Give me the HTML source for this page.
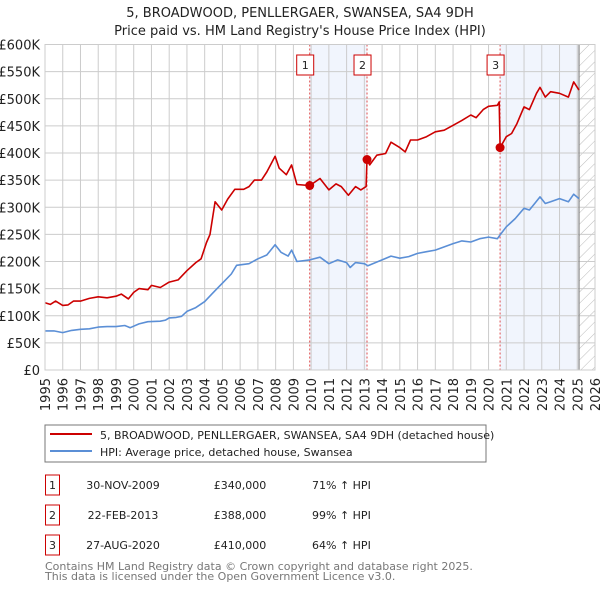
<!DOCTYPE html>
<html><head><meta charset="utf-8"><style>
body{margin:0;background:#fff;font-family:"DejaVu Sans","Liberation Sans",sans-serif;}
svg text{font-family:"DejaVu Sans","Liberation Sans",sans-serif;}
</style></head><body>
<svg id="c" width="600" height="590" xmlns="http://www.w3.org/2000/svg">
<defs><pattern id="hatch" width="8" height="8" patternUnits="userSpaceOnUse" patternTransform="rotate(45)"><line x1="0" y1="0" x2="0" y2="8" stroke="#bbb" stroke-width="1"/></pattern></defs>
<text x="300" y="17" text-anchor="middle" font-size="13" fill="#222">5, BROADWOOD, PENLLERGAER, SWANSEA, SA4 9DH</text>
<text x="300" y="35" text-anchor="middle" font-size="13" fill="#222">Price paid vs. HM Land Registry's House Price Index (HPI)</text>
<g id="plot"></g>
<rect x="45" y="425" width="441" height="37" fill="#fff" stroke="#777"/>
<line x1="50" y1="434" x2="92" y2="434" stroke="#cc0000" stroke-width="2"/>
<text x="100" y="439" font-size="11" fill="#222">5, BROADWOOD, PENLLERGAER, SWANSEA, SA4 9DH (detached house)</text>
<line x1="50" y1="451" x2="92" y2="451" stroke="#5b8fd6" stroke-width="2"/>
<text x="100" y="456" font-size="11" fill="#222">HPI: Average price, detached house, Swansea</text>
<g id="table" font-size="11" fill="#222"></g>
<text x="45" y="570" font-size="11" fill="#777">Contains HM Land Registry data © Crown copyright and database right 2025.</text>
<text x="45" y="580" font-size="11" fill="#777">This data is licensed under the Open Government Licence v3.0.</text>
</svg>
<script>
const yTicks=[0,50,100,150,200,250,300,350,400,450,500,550,600];
const yTickLabels=["£0","£50K","£100K","£150K","£200K","£250K","£300K","£350K","£400K","£450K","£500K","£550K","£600K"];
const xYears=[1995,1996,1997,1998,1999,2000,2001,2002,2003,2004,2005,2006,2007,2008,2009,2010,2011,2012,2013,2014,2015,2016,2017,2018,2019,2020,2021,2022,2023,2024,2025,2026];
const hpiYears=[1995,1995.5,1996,1996.5,1997,1997.5,1998,1998.5,1999,1999.5,1999.8,2000.3,2000.8,2001.5,2001.8,2002,2002.4,2002.7,2003,2003.5,2004,2004.4,2004.7,2005,2005.5,2005.8,2006.5,2007,2007.5,2007.97,2008.3,2008.7,2008.9,2009.2,2009.92,2010.5,2011,2011.5,2012,2012.2,2012.5,2013,2013.2,2014,2014.5,2015,2015.5,2016,2016.5,2017,2017.5,2018,2018.5,2019,2019.5,2020,2020.5,2020.65,2021,2021.5,2022,2022.3,2022.6,2022.9,2023.2,2023.5,2024,2024.5,2024.8,2025.1];
const hpiValues=[72,72,69,73,75,76,79,80,80,82,78,85,89,90,92,96,97,99,108,115,126,140,150,160,177,193,196,205,212,231,217,210,221,200,203,208,196,203,198,189,198,196,192,203,210,206,209,215,218,221,227,233,238,236,242,245,242,249,264,279,298,295,307,319,307,310,316,310,324,316];
const priceYears=[1995,1995.3,1995.6,1996,1996.3,1996.6,1997,1997.5,1998,1998.5,1999,1999.3,1999.7,2000,2000.3,2000.8,2001,2001.5,2002,2002.5,2003,2003.5,2003.8,2004.1,2004.3,2004.59,2004.96,2005.3,2005.7,2006.2,2006.5,2006.8,2007.2,2007.5,2007.97,2008.2,2008.6,2008.9,2009.2,2009.92,2010.5,2011,2011.4,2011.7,2012.1,2012.5,2012.8,2013.1,2013.15,2013.3,2013.7,2014.2,2014.5,2015,2015.3,2015.6,2016,2016.5,2017,2017.5,2018,2018.5,2019,2019.3,2019.7,2020,2020.5,2020.6,2020.65,2021,2021.3,2021.6,2022,2022.3,2022.7,2022.9,2023.2,2023.5,2024,2024.5,2024.8,2025.1];
const priceValues=[124,121,127,119,120,127,127,132,135,133,136,140,131,143,150,148,156,152,162,166,183,198,205,235,250,310,295,315,333,333,338,350,350,365,394,372,360,378,342,340,353,332,343,338,322,338,332,338,388,378,396,399,420,410,402,424,424,430,439,442,451,460,470,465,480,486,488,494,410,430,436,454,485,480,510,521,503,513,510,503,531,516];
const saleYears=[2009.92,2013.15,2020.65];
const saleValues=[340,388,410];
const saleLabels=["1","2","3"];
const saleDates=["30-NOV-2009","22-FEB-2013","27-AUG-2020"];
const salePrices=["£340,000","£388,000","£410,000"];
const saleHpi=["71% ↑ HPI","99% ↑ HPI","64% ↑ HPI"];
const dataEnd=2025.1;

const NS="http://www.w3.org/2000/svg";
const X0=45,X1=595,Y0=370,Y1=44.5;
const xS=y=>X0+(y-1995)/(2026-1995)*(X1-X0);
const yS=v=>Y0-v/600*(Y0-Y1);
const plot=document.getElementById('plot');
function mk(tag,at,parent){const e=document.createElementNS(NS,tag);for(const k in at)e.setAttribute(k,at[k]);(parent||plot).appendChild(e);return e;}
[[saleYears[0],saleYears[1]],[saleYears[2],dataEnd]].forEach((r,i)=>{
 const e=mk('rect',{x:xS(r[0]),y:Y1,width:xS(r[1])-xS(r[0]),height:Y0-Y1,fill:'#eef3fc',opacity:0.8});
 
 
});
const h=mk('rect',{x:xS(dataEnd),y:Y1,width:X1-xS(dataEnd),height:Y0-Y1,fill:'url(#hatch)'});


yTicks.forEach((v,i)=>{
 const l=mk('line',{x1:X0,x2:X1,y1:yS(v),y2:yS(v),stroke:'#ccc','stroke-width':1});
 
 
 const t=mk('text',{x:40,y:yS(v)+5,'text-anchor':'end','font-size':13,fill:'#222'});
 t.textContent=yTickLabels[i];
 
 
});
xYears.forEach(yr=>{
 const l=mk('line',{x1:xS(yr),x2:xS(yr),y1:Y1,y2:Y0,stroke:'#ccc','stroke-width':1});
 
 
 const t=mk('text',{x:0,y:0,'text-anchor':'end','font-size':13,fill:'#222',transform:`translate(${xS(yr)+5},378) rotate(-90)`});
 t.textContent=yr;
 
 
});
const dl=mk('line',{x1:xS(dataEnd),x2:xS(dataEnd),y1:Y1,y2:Y0,stroke:'#888','stroke-width':1.2});


saleYears.forEach((yr,i)=>{
 const l=mk('line',{x1:xS(yr),x2:xS(yr),y1:Y1,y2:Y0,stroke:'#e05050','stroke-width':1,'stroke-dasharray':'2,2'});
 
 
 const b=mk('rect',{x:xS(yr)-13,y:55,width:17,height:20,fill:'#fff',stroke:'#cc0000','stroke-width':1});
 
 
 const t=mk('text',{x:xS(yr)-4.5,y:69,'text-anchor':'middle','font-size':11,fill:'#222'});
 t.textContent=saleLabels[i];
 
 
});
function line(xs,vs,col,name){
 const p=mk('polyline',{points:xs.map((x,i)=>xS(x).toFixed(1)+','+yS(vs[i]).toFixed(1)).join(' '),fill:'none',stroke:col,'stroke-width':1.6,'stroke-linejoin':'round'});
 
 
}
line(hpiYears,hpiValues,'#5b8fd6','hpi-line');
line(priceYears,priceValues,'#cc0000','price-paid-line');
saleYears.forEach((yr,i)=>{
 const c=mk('circle',{cx:xS(yr),cy:yS(saleValues[i]),r:4.5,fill:'#cc0000'});
 
 
});
const bd=mk('rect',{x:X0,y:Y1,width:X1-X0,height:Y0-Y1,fill:'none',stroke:'#ccc'});


const tb=document.getElementById('table');
saleLabels.forEach((s,i)=>{
 const y=483+i*30;
 const b=mk('rect',{x:45.5,y:y-8,width:14,height:20,fill:'#fff',stroke:'#cc0000'},tb);
 
 
 [[52.5,s,'table-number','middle'],[123,saleDates[i],'table-date','middle'],[240,salePrices[i],'table-price','middle'],[312,saleHpi[i],'table-hpi-change','start']].forEach(c=>{
  const t=mk('text',{x:c[0],y:y+6,'text-anchor':c[3],'font-size':11,fill:'#222'},tb);
  t.textContent=c[1];
  
  
 });
});
</script>
</body></html>
